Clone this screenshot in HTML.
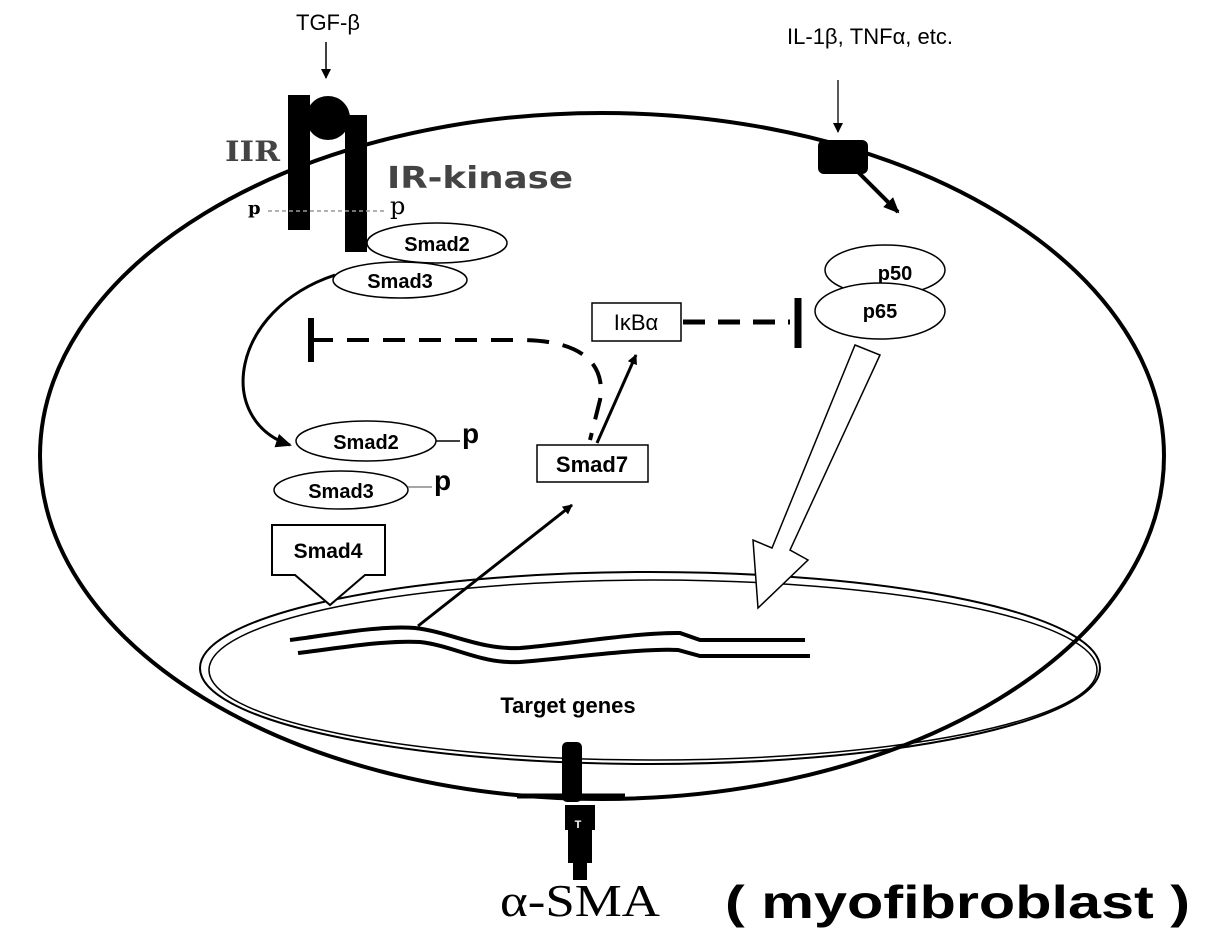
<!DOCTYPE html>
<html><head><meta charset="utf-8"><style>
body{margin:0;background:#fff}
svg{display:block}
</style></head><body>
<svg width="1205" height="946" viewBox="0 0 1205 946" xmlns="http://www.w3.org/2000/svg" font-family="Liberation Sans, sans-serif">
<defs>
<marker id="ah" markerWidth="10" markerHeight="10" refX="9" refY="5" orient="auto" markerUnits="userSpaceOnUse"><path d="M0,0 L10,5 L0,10 z" fill="#000"/></marker>
<marker id="ahb" markerWidth="16" markerHeight="16" refX="14" refY="8" orient="auto" markerUnits="userSpaceOnUse"><path d="M0,1 L16,8 L0,15 z" fill="#000"/></marker>
</defs>
<!-- cell -->
<ellipse cx="602" cy="456" rx="562" ry="343" fill="none" stroke="#000" stroke-width="4"/>
<!-- nucleus -->
<ellipse cx="650" cy="668" rx="450" ry="96" fill="none" stroke="#000" stroke-width="2"/>
<ellipse cx="653" cy="670" rx="444" ry="90" fill="none" stroke="#000" stroke-width="1.5"/>
<!-- TGF-b -->
<text x="328" y="30" font-size="22" text-anchor="middle">TGF-β</text>
<line x1="326" y1="42" x2="326" y2="78" stroke="#000" stroke-width="1.5" marker-end="url(#ah)"/>
<!-- receptor -->
<rect x="288" y="95" width="22" height="135" fill="#000"/>
<circle cx="328" cy="118" r="22" fill="#000"/>
<rect x="345" y="115" width="22" height="137" fill="#000"/>
<text x="225" y="161" font-size="28" font-weight="bold" fill="#444" textLength="55" lengthAdjust="spacingAndGlyphs" style="font-family:'DejaVu Serif',serif">IIR</text>
<text x="387" y="188" font-size="30" font-weight="bold" fill="#444" textLength="186" lengthAdjust="spacingAndGlyphs" style="font-family:'DejaVu Sans',sans-serif">IR-kinase</text>
<text x="248" y="214" font-size="18" font-weight="bold" style="font-family:'DejaVu Serif',serif">p</text>
<text x="390" y="214" font-size="24" style="font-family:'DejaVu Serif',serif">p</text>
<line x1="268" y1="211" x2="386" y2="211" stroke="#999" stroke-width="1.5" stroke-dasharray="4,3"/>
<ellipse cx="437" cy="243" rx="70" ry="20" fill="#fff" stroke="#000" stroke-width="1.5"/>
<text x="437" y="251" font-size="20" font-weight="bold" text-anchor="middle">Smad2</text>
<ellipse cx="400" cy="280" rx="67" ry="18" fill="#fff" stroke="#000" stroke-width="1.5"/>
<text x="400" y="288" font-size="20" font-weight="bold" text-anchor="middle">Smad3</text>
<!-- curved arrow -->
<path d="M335,275 C230,310 215,420 290,445" fill="none" stroke="#000" stroke-width="3" marker-end="url(#ahb)"/>
<!-- inhibition from smad7 -->
<line x1="311" y1="318" x2="311" y2="362" stroke="#000" stroke-width="6"/>
<path d="M311,340 L520,340 C590,340 605,370 600,400 L590,440" fill="none" stroke="#000" stroke-width="4" stroke-dasharray="22,14"/>
<!-- Smad2/3 p -->
<ellipse cx="366" cy="441" rx="70" ry="20" fill="#fff" stroke="#000" stroke-width="1.5"/>
<text x="366" y="449" font-size="20" font-weight="bold" text-anchor="middle">Smad2</text>
<line x1="436" y1="441" x2="460" y2="441" stroke="#000" stroke-width="1.5"/>
<text x="462" y="443" font-size="28" font-weight="bold">p</text>
<ellipse cx="341" cy="490" rx="67" ry="19" fill="#fff" stroke="#000" stroke-width="1.5"/>
<text x="341" y="498" font-size="20" font-weight="bold" text-anchor="middle">Smad3</text>
<line x1="408" y1="487" x2="432" y2="487" stroke="#888" stroke-width="1.5"/>
<text x="434" y="490" font-size="28" font-weight="bold">p</text>
<!-- Smad4 arrow box -->
<path d="M272,525 L385,525 L385,575 L365,575 L330,605 L295,575 L272,575 Z" fill="#fff" stroke="#000" stroke-width="2"/>
<text x="328" y="558" font-size="21" font-weight="bold" text-anchor="middle">Smad4</text>
<!-- DNA -->
<path d="M290,640 C330,635 380,625 415,628 C450,632 480,650 520,648 C560,645 640,632 680,633 L700,640 L805,640" fill="none" stroke="#000" stroke-width="4"/>
<path d="M298,653 C340,648 385,640 420,642 C455,646 480,664 520,662 C560,659 640,648 678,650 L700,656 L810,656" fill="none" stroke="#000" stroke-width="4"/>
<!-- arrow to smad7 -->
<line x1="418" y1="626" x2="572" y2="505" stroke="#000" stroke-width="3" marker-end="url(#ah)"/>
<rect x="537" y="445" width="111" height="37" fill="#fff" stroke="#000" stroke-width="1.5"/>
<text x="592" y="472" font-size="22" font-weight="bold" text-anchor="middle">Smad7</text>
<line x1="597" y1="443" x2="636" y2="355" stroke="#000" stroke-width="3" marker-end="url(#ah)"/>
<rect x="592" y="303" width="89" height="38" fill="#fff" stroke="#000" stroke-width="1.5"/>
<text x="636" y="330" font-size="22" text-anchor="middle">IκBα</text>
<line x1="683" y1="322" x2="790" y2="322" stroke="#000" stroke-width="5" stroke-dasharray="22,13"/>
<line x1="798" y1="298" x2="798" y2="348" stroke="#000" stroke-width="7"/>
<!-- IL-1b -->
<text x="870" y="44" font-size="22" text-anchor="middle">IL-1β, TNFα, etc.</text>
<line x1="838" y1="80" x2="838" y2="132" stroke="#000" stroke-width="1.3" marker-end="url(#ah)"/>
<rect x="818" y="140" width="50" height="34" rx="6" fill="#000"/>
<line x1="858" y1="172" x2="898" y2="212" stroke="#000" stroke-width="4" marker-end="url(#ahb)"/>
<ellipse cx="885" cy="270" rx="60" ry="25" fill="#fff" stroke="#000" stroke-width="1.5"/>
<text x="895" y="280" font-size="20" font-weight="bold" text-anchor="middle">p50</text>
<ellipse cx="880" cy="311" rx="65" ry="28" fill="#fff" stroke="#000" stroke-width="1.5"/>
<text x="880" y="318" font-size="20" font-weight="bold" text-anchor="middle">p65</text>
<!-- big hollow arrow -->
<path d="M855,345 L880,355 L790,550 L808,560 L758,608 L753,540 L772,548 Z" fill="#fff" stroke="#000" stroke-width="1.5"/>
<text x="568" y="713" font-size="22" font-weight="bold" text-anchor="middle">Target genes</text>
<!-- bottom channel -->
<rect x="562" y="742" width="20" height="60" rx="5" fill="#000"/>
<path d="M517,796 L625,796" stroke="#000" stroke-width="5"/>
<rect x="565" y="805" width="30" height="25" fill="#000"/>
<rect x="568" y="828" width="24" height="35" fill="#000"/>
<rect x="573" y="860" width="14" height="20" fill="#000"/>
<text x="578" y="828" font-size="11" fill="#fff" text-anchor="middle" font-weight="bold">T</text>
<text x="500" y="916" font-size="46" textLength="160" lengthAdjust="spacingAndGlyphs" style="font-family:'Liberation Serif',serif">α-SMA</text>
<text x="725" y="918" font-size="46" font-weight="bold" textLength="465" lengthAdjust="spacingAndGlyphs">( myofibroblast )</text>
</svg>
</body></html>
